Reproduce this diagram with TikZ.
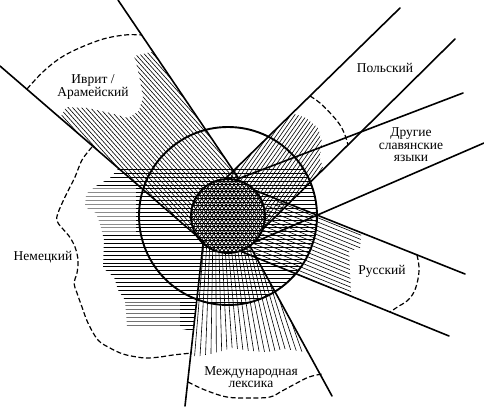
\documentclass[tikz,border=0pt]{standalone}
\usepackage{fontspec}
\setmainfont{Liberation Serif}
\newcommand{\hatchfam}[3]{%
  \foreach \k in {-#3,...,#3}{%
    \draw[hatchline] ({228-(\k)*#2*sin(#1)-460*cos(#1)},{216+(\k)*#2*cos(#1)-460*sin(#1)}) -- ({228-(\k)*#2*sin(#1)+460*cos(#1)},{216+(\k)*#2*cos(#1)+460*sin(#1)});}}
\begin{document}
\begin{tikzpicture}[x=1pt,y=-1pt,
  edge/.style={line width=1.6pt,line cap=round},
  ring/.style={line width=1.9pt},
  hatchline/.style={line width=0.6pt},
  bound/.style={line width=1.2pt,dash pattern=on 5pt off 2.6pt},
  lbl/.style={font=\fontsize{13.5}{12.5}\selectfont,align=center,inner sep=0pt}]
\useasboundingbox (0,0) rectangle (484,407);
% centre and band end points
\coordinate (C) at (228,216);
\coordinate (L1o) at (0,66);    \coordinate (L1i) at (205,243);
\coordinate (L2o) at (118,0);   \coordinate (L2i) at (239,179);
\coordinate (P1o) at (400,8);   \coordinate (P1i) at (225,179);
\coordinate (P2o) at (455,39);  \coordinate (P2i) at (262,230);
\coordinate (S1o) at (463,93);  \coordinate (S1i) at (235,180);
\coordinate (S2o) at (484,143); \coordinate (S2i) at (255,242);
\coordinate (R1o) at (465,274); \coordinate (R1i) at (254,190);
\coordinate (R2o) at (449,336); \coordinate (R2i) at (240,251);
\coordinate (I1o) at (185,406); \coordinate (I1i) at (203,244);
\coordinate (I2o) at (332,396); \coordinate (I2i) at (250,246);
% Hebrew hatch
\begin{scope}
\clip (L1o) -- (L2o) -- (L2i) -- (C) -- (L1i) -- cycle;
\clip (58,122) -- (66,107) -- (87,108) -- (110,113) -- (128,118) -- (139,111) -- (143,97) -- (140,80) -- (136,62) -- (134,56) -- (160,50) -- (300,150) -- (250,300) -- (0,140) -- cycle;
\hatchfam{48}{3.3}{90}
\end{scope}
% German hatch
\begin{scope}
\clip (126,166) -- (118,169) -- (110,178) -- (96,186) -- (86,194) -- (85,207) -- (96,213) -- (100,224) -- (104,240) -- (103,268) -- (114,277) -- (118,290) -- (125,300) -- (127,326) -- (172,327) -- (193,331) -- (206,230) -- (206,166) -- cycle;
\hatchfam{0}{3.9}{40}
\end{scope}
\begin{scope}
\clip (C) circle (89);
\clip (130,166) rectangle (330,310);
\hatchfam{0}{3.9}{40}
\end{scope}
% faded parts of the German hatch
\fill[white,opacity=0.55] (84,186) rectangle (136,232);
\fill[white,opacity=0.45] (122,300) rectangle (180,332);
% Polish hatch
\begin{scope}
\clip (P1o) -- (P2o) -- (P2i) -- (C) -- (P1i) -- cycle;
\clip (265,108) -- (280,112) -- (292,113) -- (306,118) -- (318,128) -- (322,142) -- (320,158) -- (324,172) -- (320,230) -- (200,230) -- (200,150) -- cycle;
\hatchfam{-55}{3.3}{90}
\end{scope}
% Russian hatch
\begin{scope}
\clip (R1o) -- (R2o) -- (R2i) -- (C) -- (R1i) -- cycle;
\clip (300,190) -- (362,225) -- (360,248) -- (349,251) -- (351,290) -- (352,310) -- (240,280) -- (220,230) -- cycle;
\hatchfam{22}{4}{60}
\end{scope}
% International fan
\begin{scope}
\clip (I1o) -- (I2o) -- (I2i) -- (C) -- (I1i) -- cycle;
\clip (170,356) -- (200,356) -- (215,353) -- (232,348) -- (250,351) -- (268,352) -- (285,349) -- (305,352) -- (330,352) -- (330,200) -- (170,200) -- cycle;
\foreach \i in {-3,...,25}{\draw[hatchline] (215,106) -- ({215+(200+4*\i-215)*1.6},400);}
\end{scope}
% inner mesh
\fill[white] (C) circle (37);
\begin{scope}[hatchline/.style={line width=0.8pt}]
\clip (C) circle (37);
\foreach \a in {0,60,-60}{\hatchfam{\a}{3.5}{12}}
\end{scope}
% circles
\draw[ring] (C) circle (89);
\draw[ring] (C) circle (37);
% band edges
\draw[edge] (L1o) -- (L1i);
\draw[edge] (L2o) -- (L2i);
\draw[edge] (P1o) -- (P1i);
\draw[edge] (P2o) -- (P2i);
\draw[edge] (S1o) -- (S1i);
\draw[edge] (S2o) -- (S2i);
\draw[edge] (R1o) -- (R1i);
\draw[edge] (R2o) -- (R2i);
\draw[edge] (I1o) -- (I1i);
\draw[edge] (I2o) -- (I2i);
% dashed outer limits
\draw[bound] plot[smooth,tension=0.6] coordinates {(27,89) (45,70) (67,54) (100,40) (125,35) (142,35)};
\draw[bound] plot[smooth,tension=0.6] coordinates {(92,147) (82,160) (75,177) (65,197) (58,213) (57,221) (62,228) (69,236) (75,247) (78,260) (77,273) (74,283) (77,293) (82,307) (88,323) (98,340) (110,348) (123,354) (137,357) (147,358) (160,357) (173,355) (192,353)};
\draw[bound] plot[smooth,tension=0.6] coordinates {(188,382) (205,390) (227,397) (250,398) (270,397) (282,391) (295,384) (309,377) (322,374)};
\draw[bound] plot[smooth,tension=0.6] coordinates {(417,255) (419,267) (418,279) (414,292) (407,301) (399,306) (390,312)};
\draw[bound] plot[smooth,tension=0.6] coordinates {(310,96) (320,103) (332,115) (340,125) (345,135) (348,145)};
% labels
\node[lbl] (heb) at (93,87) {Иврит /\\Арамейский};
\node[lbl] (pol) at (385,68) {Польский};
\node[lbl] (osl) at (411,145) {Другие\\славянские\\языки};
\node[lbl] (ger) at (43,257) {Немецкий};
\node[lbl] (rus) at (382,271) {Русский};
\node[lbl] (intl) at (251,377) {Международная\\лексика};
\end{tikzpicture}
\end{document}
